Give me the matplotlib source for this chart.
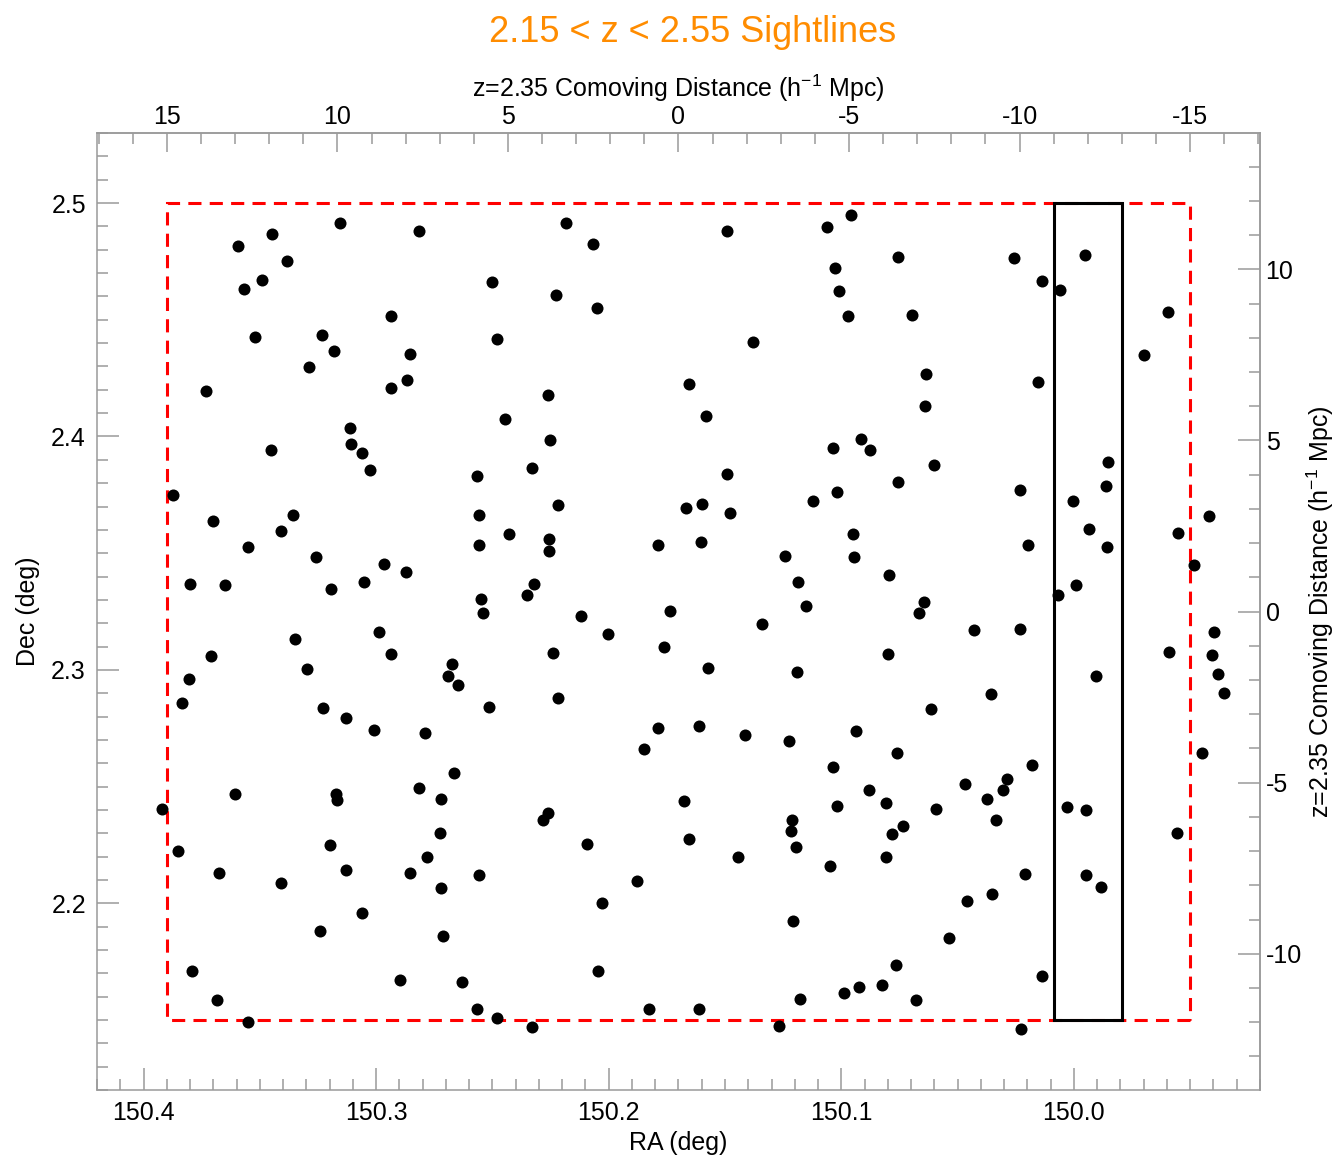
import numpy as np
import matplotlib
matplotlib.use("Agg")
import matplotlib.pyplot as plt
from matplotlib.patches import Rectangle
from matplotlib.ticker import MultipleLocator

plt.rcParams['font.family'] = ['Liberation Sans', 'DejaVu Sans']
plt.rcParams['mathtext.fontset'] = 'custom'
plt.rcParams['mathtext.rm'] = 'Liberation Sans'
plt.rcParams['axes.unicode_minus'] = False

# sightline positions (deg)
ra = np.array([
    150.3156, 150.2816, 150.3449, 150.3594, 150.3385, 150.3491, 150.3567, 150.2936,
    150.3520, 150.3233, 150.3183, 150.2853, 150.3287, 150.2866, 150.2936, 150.3732,
    150.3113, 150.3107, 150.3453, 150.3059, 150.3027, 150.2184, 150.1492, 150.1061,
    150.2069, 150.2503, 150.2228, 150.2050, 150.1025, 150.1012, 150.2482, 150.1379,
    150.1656, 150.2259, 150.1580, 150.2447, 150.2254, 150.1037, 150.2330, 150.2566,
    150.1491, 150.0960, 150.0757, 150.0258, 149.9954, 150.0136, 150.0059, 150.0972,
    150.0698, 149.9596, 149.9700, 150.0635, 150.0156, 150.0640, 150.0916, 150.0876,
    150.0602, 149.9855, 150.3874, 150.3702, 150.3356, 150.3408, 150.3550, 150.3257,
    150.2966, 150.2872, 150.3801, 150.3649, 150.3193, 150.3050, 150.2986, 150.3349,
    150.3708, 150.2936, 150.2675, 150.3298, 150.2691, 150.2646, 150.3803, 150.3834,
    150.3227, 150.3128, 150.3008, 150.2790, 150.2216, 150.2559, 150.1668, 150.1600,
    150.1478, 150.1121, 150.1019, 150.2430, 150.2255, 150.2258, 150.2559, 150.1788,
    150.1603, 150.1243, 150.1188, 150.2323, 150.2350, 150.2548, 150.2542, 150.1151,
    150.1735, 150.2117, 150.2001, 150.1341, 150.1762, 150.2238, 150.1573, 150.1191,
    150.2218, 150.2516, 150.1788, 150.1613, 150.1415, 150.1226, 150.1848, 150.0757,
    150.0231, 149.9864, 150.0003, 149.9419, 149.9935, 149.9551, 150.0948, 150.0199,
    149.9857, 150.0945, 149.9485, 150.0794, 149.9993, 150.0070, 150.0645, 150.0667,
    150.0431, 150.0231, 149.9398, 150.0799, 149.9591, 149.9405, 149.9379, 149.9904,
    149.9356, 150.0357, 150.0616, 150.0935, 150.0760, 149.9451, 150.2667, 150.3607,
    150.2814, 150.3173, 150.3166, 150.2720, 150.3920, 150.2727, 150.3853, 150.3197,
    150.2780, 150.3674, 150.3130, 150.2853, 150.3408, 150.2723, 150.3062, 150.3240,
    150.2711, 150.3791, 150.2898, 150.2629, 150.3686, 150.3551, 150.1035, 150.1018,
    150.1676, 150.2261, 150.2283, 150.1213, 150.1216, 150.1193, 150.1655, 150.2092,
    150.1446, 150.1048, 150.2559, 150.1878, 150.2029, 150.1206, 150.2047, 150.2565,
    150.2482, 150.1828, 150.1610, 150.2330, 150.1176, 150.1269, 150.0182, 150.0289,
    150.0883, 150.0468, 150.0305, 150.0806, 150.0373, 150.0591, 150.0029, 149.9950,
    150.0735, 150.0783, 150.0335, 149.9557, 150.0809, 150.0209, 149.9948, 149.9883,
    150.0351, 150.0459, 150.0538, 150.0766, 150.0136, 150.0989, 150.0926, 150.0827,
    150.0678, 150.0228,
])
dec = np.array([
    2.4914, 2.4881, 2.4866, 2.4814, 2.4752, 2.4669, 2.4632, 2.4515,
    2.4428, 2.4433, 2.4366, 2.4355, 2.4296, 2.4242, 2.4206, 2.4197,
    2.4037, 2.3966, 2.3940, 2.3931, 2.3855, 2.4915, 2.4881, 2.4898,
    2.4824, 2.4661, 2.4606, 2.4552, 2.4720, 2.4624, 2.4419, 2.4405,
    2.4223, 2.4177, 2.4087, 2.4074, 2.3983, 2.3951, 2.3866, 2.3831,
    2.3840, 2.4948, 2.4768, 2.4765, 2.4776, 2.4665, 2.4627, 2.4515,
    2.4522, 2.4532, 2.4348, 2.4267, 2.4235, 2.4132, 2.3990, 2.3943,
    2.3877, 2.3891, 2.3750, 2.3636, 2.3664, 2.3595, 2.3527, 2.3484,
    2.3454, 2.3419, 2.3370, 2.3362, 2.3345, 2.3375, 2.3164, 2.3133,
    2.3059, 2.3070, 2.3026, 2.3004, 2.2974, 2.2937, 2.2961, 2.2857,
    2.2838, 2.2793, 2.2741, 2.2731, 2.3708, 2.3664, 2.3695, 2.3711,
    2.3671, 2.3724, 2.3764, 2.3584, 2.3561, 2.3511, 2.3533, 2.3533,
    2.3546, 2.3486, 2.3375, 2.3370, 2.3322, 2.3305, 2.3242, 2.3275,
    2.3253, 2.3229, 2.3154, 2.3197, 2.3096, 2.3072, 2.3007, 2.2990,
    2.2880, 2.2840, 2.2752, 2.2758, 2.2722, 2.2697, 2.2662, 2.3804,
    2.3770, 2.3787, 2.3722, 2.3658, 2.3605, 2.3588, 2.3582, 2.3535,
    2.3527, 2.3484, 2.3448, 2.3405, 2.3362, 2.3322, 2.3289, 2.3242,
    2.3169, 2.3177, 2.3162, 2.3069, 2.3076, 2.3064, 2.2983, 2.2973,
    2.2901, 2.2896, 2.2833, 2.2737, 2.2644, 2.2644, 2.2558, 2.2468,
    2.2495, 2.2469, 2.2443, 2.2446, 2.2402, 2.2300, 2.2224, 2.2250,
    2.2199, 2.2129, 2.2143, 2.2132, 2.2085, 2.2064, 2.1957, 2.1881,
    2.1861, 2.1709, 2.1671, 2.1661, 2.1585, 2.1492, 2.2585, 2.2416,
    2.2438, 2.2386, 2.2359, 2.2355, 2.2310, 2.2240, 2.2275, 2.2256,
    2.2197, 2.2158, 2.2123, 2.2097, 2.2003, 2.1923, 2.1711, 2.1546,
    2.1508, 2.1549, 2.1549, 2.1468, 2.1588, 2.1476, 2.2594, 2.2531,
    2.2484, 2.2511, 2.2484, 2.2429, 2.2445, 2.2405, 2.2413, 2.2398,
    2.2332, 2.2295, 2.2355, 2.2302, 2.2200, 2.2124, 2.2123, 2.2072,
    2.2040, 2.2010, 2.1850, 2.1735, 2.1688, 2.1614, 2.1641, 2.1648,
    2.1584, 2.1461,
])

# survey footprint (deg) and the highlighted slab (h^-1 Mpc along RA)
field_ra = [149.95, 150.39]
field_dec = [2.15, 2.50]
slab_mpc = [-13.0, -11.0]

# labelled comoving ticks (h^-1 Mpc)
top_ticks = [15, 10, 5, 0, -5, -10, -15]
right_ticks = [10, 5, 0, -5, -10]

# comoving conversion at z=2.35, centred on the field
ra0, dec0 = 150.17, 2.325
mpc_per_deg = 68.2

axis_gray = '#9a9a9a'
fs = 18


def ra_to_mpc(x):
    return (x - ra0) * mpc_per_deg


def mpc_to_ra(d):
    return ra0 + d / mpc_per_deg


def dec_to_mpc(y):
    return (y - dec0) * mpc_per_deg


def mpc_to_dec(d):
    return dec0 + d / mpc_per_deg


fig = plt.figure(figsize=(13.36, 11.59), dpi=100)
ax = fig.add_axes([0.0726, 0.0595, 0.8705, 0.8257])
ax.set_xlim(150.42, 149.92)
ax.set_ylim(2.12, 2.53)

ax.add_patch(Rectangle((field_ra[0], field_dec[0]), field_ra[1] - field_ra[0],
                       field_dec[1] - field_dec[0], fill=False, ec='red',
                       lw=2.2, ls=(0, (4.3, 2.7)), zorder=2))
slab_lo, slab_hi = mpc_to_ra(slab_mpc[0]), mpc_to_ra(slab_mpc[1])
ax.add_patch(Rectangle((slab_lo, field_dec[0]), slab_hi - slab_lo,
                       field_dec[1] - field_dec[0], fill=False, ec='black',
                       lw=2.2, zorder=2))

ax.scatter(ra, dec, s=75, c='black', linewidths=0, zorder=3)

ax.xaxis.set_major_locator(MultipleLocator(0.1))
ax.xaxis.set_minor_locator(MultipleLocator(0.01))
ax.yaxis.set_major_locator(MultipleLocator(0.1))
ax.yaxis.set_minor_locator(MultipleLocator(0.01))
ax.tick_params(which='both', direction='in', color=axis_gray, width=1.1,
               labelsize=fs, top=False, right=False)
ax.tick_params(which='major', length=16, pad=8)
ax.tick_params(which='minor', length=8)
for s in ax.spines.values():
    s.set_color(axis_gray)
    s.set_linewidth(1.1)

top = ax.secondary_xaxis('top', functions=(ra_to_mpc, mpc_to_ra))
right = ax.secondary_yaxis('right', functions=(dec_to_mpc, mpc_to_dec))
for sec in (top, right):
    sec.tick_params(which='both', direction='in', color=axis_gray, width=1.1,
                    labelsize=fs)
    sec.tick_params(which='minor', length=8)
    for s in sec.spines.values():
        s.set_color(axis_gray)
        s.set_linewidth(1.1)
top.tick_params(which='major', length=14, pad=3)
right.tick_params(which='major', length=16, pad=4)
top.set_xticks(top_ticks)
top.xaxis.set_minor_locator(MultipleLocator(1))
right.set_yticks(right_ticks)
right.yaxis.set_minor_locator(MultipleLocator(1))

ax.set_xlabel('RA (deg)', fontsize=fs, labelpad=4)
ax.set_ylabel('Dec (deg)', fontsize=fs, labelpad=8)
cd_label = 'z=2.35 Comoving Distance (h$^{\\mathregular{-1}}$ Mpc)'
top.set_xlabel(cd_label, fontsize=fs, labelpad=6)
right.set_ylabel(cd_label, fontsize=fs, labelpad=2)

fig.text(0.5187, 0.972, '2.15 < z < 2.55 Sightlines', ha='center', va='center',
         color='#ff8c00', fontsize=26)

fig.savefig('out.png', dpi=100)
